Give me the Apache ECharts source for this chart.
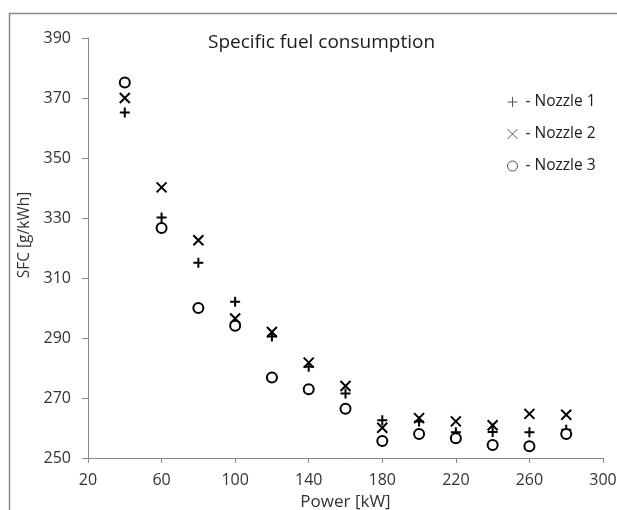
<!DOCTYPE html>
<html>
<head>
<meta charset="utf-8">
<script src="https://cdn.jsdelivr.net/npm/echarts@6/dist/echarts.min.js"></script>
<style>
html,body{margin:0;padding:0;background:#fff;}
#chart{width:617px;height:510px;}
</style>
</head>
<body>
<div id="chart"></div>
<script>
const power = [40, 60, 80, 100, 120, 140, 160, 180, 200, 220, 240, 260, 280];
const nozzle1 = [365.2, 330.2, 315.1, 302.1, 290.5, 280.4, 271.5, 262.6, 262.2, 258.6, 258.7, 258.6, 259.4];
const nozzle2 = [370.0, 340.2, 322.6, 296.5, 292.0, 281.8, 274.0, 260.1, 263.3, 262.2, 260.9, 264.7, 264.4];
const nozzle3 = [375.2, 326.7, 300.0, 294.1, 276.8, 272.9, 266.4, 255.7, 258.0, 256.6, 254.3, 253.9, 258.0];
const seriesNames = ['Nozzle 1', 'Nozzle 2', 'Nozzle 3'];
const xTicks = {min: 20, max: 300, interval: 40};
const yTicks = {min: 250, max: 390, interval: 20};

const plusPath = 'path://M5,0L5,10M0,5L10,5';
const crossPath = 'path://M0,0L10,10M10,0L0,10';
const font = 'Open Sans';

function pairs(ys) { return power.map((x, i) => [x, ys[i]]); }

const chart = echarts.init(document.getElementById('chart'), null, {renderer: 'canvas'});
chart.setOption({
  backgroundColor: '#fff',
  animation: false,
  title: {
    text: 'Specific fuel consumption',
    left: 203, top: 28,
    textStyle: {fontFamily: font, fontSize: 19, fontWeight: 'normal', color: '#1a1a1a'}
  },
  grid: {left: 88, right: 14, top: 38, bottom: 52, containLabel: false, outerBoundsMode: 'none'},
  legend: {
    orient: 'vertical',
    left: 500, top: 89,
    itemGap: 16,
    itemWidth: 10, itemHeight: 10,
    formatter: '- {name}',
    textStyle: {fontFamily: font, fontSize: 15.5, color: '#1a1a1a', padding: [0,0,0,3]},
    data: [
      {name: seriesNames[0], icon: plusPath, itemStyle: {color: 'none', borderColor: '#555', borderWidth: 1}},
      {name: seriesNames[1], icon: crossPath, itemStyle: {color: 'none', borderColor: '#555', borderWidth: 1}},
      {name: seriesNames[2], icon: 'circle', itemStyle: {color: '#fff', borderColor: '#555', borderWidth: 1}}
    ]
  },
  graphic: [{
    type: 'polyline', silent: true,
    shape: {points: [[9.5, 520], [9.5, 13.5], [630, 13.5]]},
    style: {stroke: '#888', lineWidth: 1.5, fill: 'none'}
  }],
  xAxis: {
    type: 'value', min: xTicks.min, max: xTicks.max, interval: xTicks.interval,
    name: 'Power [kW]', nameLocation: 'middle', nameGap: 36,
    nameTextStyle: {fontFamily: font, fontSize: 17, color: '#333'},
    axisLine: {show: true, lineStyle: {color: '#888', width: 1}},
    axisTick: {show: true, inside: false, length: 5, lineStyle: {color: '#888'}},
    axisLabel: {fontFamily: font, fontSize: 16, color: '#333', margin: 14},
    splitLine: {show: false}
  },
  yAxis: {
    type: 'value', min: yTicks.min, max: yTicks.max, interval: yTicks.interval,
    name: 'SFC [g/kWh]', nameLocation: 'middle', nameGap: 53, nameRotate: 90,
    nameTextStyle: {fontFamily: font, fontSize: 15.5, color: '#333', padding: [0, 0, 0, 26]},
    axisLine: {show: true, lineStyle: {color: '#888', width: 1}},
    axisTick: {show: true, inside: false, length: 6, lineStyle: {color: '#888'}},
    axisLabel: {fontFamily: font, fontSize: 16, color: '#333', margin: 17},
    splitLine: {show: false}
  },
  series: [
    {name: seriesNames[0], type: 'scatter', data: pairs(nozzle1), symbol: plusPath, symbolSize: 10,
     itemStyle: {color: 'none', borderColor: '#000', borderWidth: 2, opacity: 1}},
    {name: seriesNames[1], type: 'scatter', data: pairs(nozzle2), symbol: crossPath, symbolSize: 10,
     itemStyle: {color: 'none', borderColor: '#000', borderWidth: 2, opacity: 1}},
    {name: seriesNames[2], type: 'scatter', data: pairs(nozzle3), symbol: 'circle', symbolSize: 10,
     itemStyle: {color: '#fff', borderColor: '#000', borderWidth: 2, opacity: 1}}
  ]
});
</script>
</body>
</html>
